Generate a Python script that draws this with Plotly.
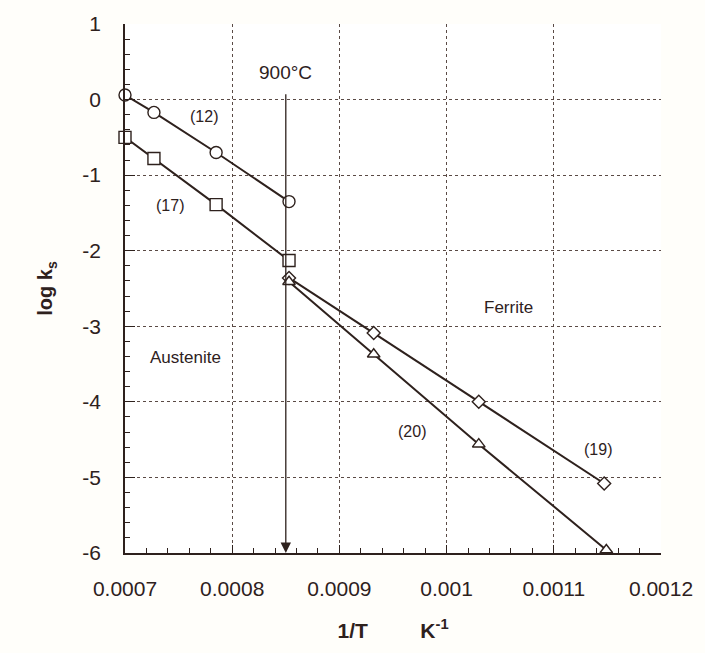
import plotly.graph_objects as go

# ---- data ----
x12 = [0.00070, 0.000727, 0.000785, 0.000853]
y12 = [0.06, -0.17, -0.70, -1.35]

x17 = [0.00070, 0.000727, 0.000785, 0.000853]
y17 = [-0.50, -0.78, -1.39, -2.13]

x19 = [0.000853, 0.000932, 0.00103, 0.001147]
y19 = [-2.36, -3.09, -4.00, -5.08]

x20 = [0.000853, 0.000932, 0.00103, 0.001149]
y20 = [-2.41, -3.37, -4.56, -5.96]

series_labels = ["(12)", "(17)", "(19)", "(20)"]
label_x = [0.000774, 0.000742, 0.001141, 0.000968]
label_y = [-0.23, -1.40, -4.63, -4.39]

region_labels = ["Ferrite", "Austenite"]
region_x = [0.001058, 0.000756]
region_y = [-2.75, -3.41]

transition_x = 0.00085
transition_top = 0.09
transition_text = "900°C"
transition_text_y = 0.36

x_ticks = [0.0007, 0.0008, 0.0009, 0.001, 0.0011, 0.0012]
x_ticktext = ["0.0007", "0.0008", "0.0009", "0.001", "0.0011", "0.0012"]
y_ticks = [1, 0, -1, -2, -3, -4, -5, -6]
y_ticktext = ["1", "0", "-1", "-2", "-3", "-4", "-5", "-6"]

INK = "#2e211d"
FONT = "Liberation Sans, Arial, Helvetica, sans-serif"

fig = go.Figure()

def add_series(x, y, symbol, size):
    fig.add_trace(go.Scatter(
        x=x, y=y, mode="lines+markers",
        line=dict(color=INK, width=2),
        marker=dict(symbol=symbol, size=size, color="#ffffff",
                    line=dict(color=INK, width=1.4)),
        showlegend=False, cliponaxis=False))

add_series(x12, y12, "circle", 12)
add_series(x17, y17, "square", 12)
add_series(x19, y19, "diamond", 10)
add_series(x20, y20, "triangle-up", 11)

for t, xx, yy in zip(series_labels, label_x, label_y):
    fig.add_annotation(x=xx, y=yy, text=t, showarrow=False,
                       font=dict(size=16, color=INK, family=FONT))
for t, xx, yy in zip(region_labels, region_x, region_y):
    fig.add_annotation(x=xx, y=yy, text=t, showarrow=False,
                       font=dict(size=17, color=INK, family=FONT))

# 900°C arrow
fig.add_annotation(x=transition_x, y=-6, ax=transition_x, ay=transition_top,
                   xref="x", yref="y", axref="x", ayref="y", text="",
                   showarrow=True, arrowhead=2, arrowsize=1.6, arrowwidth=1.3,
                   arrowcolor=INK)
fig.add_annotation(x=transition_x, y=transition_text_y, text=transition_text,
                   showarrow=False, font=dict(size=19, color=INK, family=FONT))

fig.update_xaxes(
    range=[0.0007, 0.0012], tickvals=x_ticks, ticktext=x_ticktext,
    showgrid=True, gridcolor="#5a4a45", griddash="dot", gridwidth=1,
    showline=True, linecolor=INK, linewidth=1.5,
    ticks="inside", ticklen=8, tickcolor=INK, tickwidth=1.3,
    minor=dict(dtick=0.00002, ticks="inside", ticklen=5, tickcolor=INK, showgrid=False),
    tickfont=dict(size=21, color=INK, family=FONT), ticklabelstandoff=16,
    zeroline=False,
    title=dict(text="<b>1/T</b>&nbsp;&nbsp;&nbsp;&nbsp;&nbsp;&nbsp;&nbsp;&nbsp;&nbsp;<b>K<sup>-1</sup></b>",
               font=dict(size=21, color=INK, family=FONT), standoff=24),
)
fig.update_yaxes(
    range=[-6, 1], tickvals=y_ticks, ticktext=y_ticktext,
    showgrid=True, gridcolor="#5a4a45", griddash="dot", gridwidth=1,
    showline=True, linecolor=INK, linewidth=1.5,
    ticks="inside", ticklen=10, tickcolor=INK, tickwidth=1.3,
    minor=dict(dtick=0.2, ticks="inside", ticklen=5, tickcolor=INK, showgrid=False),
    tickfont=dict(size=21, color=INK, family=FONT), ticklabelstandoff=18,
    zeroline=False,
    title=dict(text="<b>log k<sub>s</sub></b>",
               font=dict(size=20, color=INK, family=FONT), standoff=24),
)

fig.update_layout(
    width=705, height=653,
    margin=dict(l=125, r=40, t=17, b=100),
    paper_bgcolor="#fffefa", plot_bgcolor="#ffffff",
    font=dict(family=FONT, color=INK),
)

fig.write_html("out.html")
